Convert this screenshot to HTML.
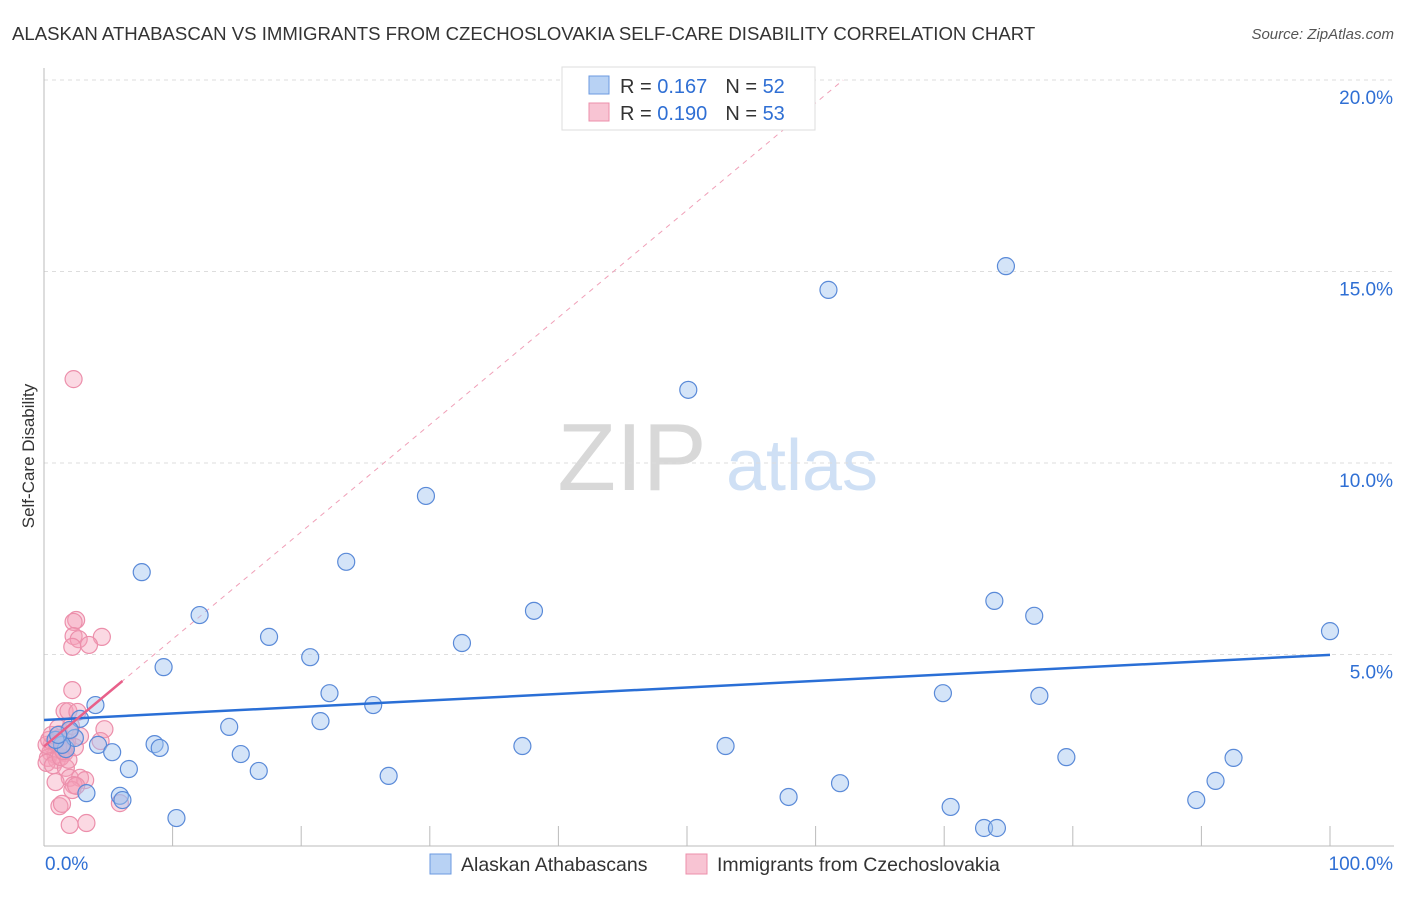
<!DOCTYPE html>
<html><head><meta charset="utf-8"><style>
body{margin:0;background:#fff;font-family:"Liberation Sans",sans-serif}
svg text{font-family:"Liberation Sans",sans-serif}
</style></head><body>
<svg id="chart" width="1406" height="892" viewBox="0 0 1406 892" xmlns="http://www.w3.org/2000/svg">
<text x="12" y="40" font-size="18.6" fill="#333">ALASKAN ATHABASCAN VS IMMIGRANTS FROM CZECHOSLOVAKIA SELF-CARE DISABILITY CORRELATION CHART</text>
<text x="1394" y="39" font-size="15" fill="#555" text-anchor="end" font-style="italic">Source: ZipAtlas.com</text>
<text transform="translate(34,456) rotate(-90)" font-size="17" fill="#333" text-anchor="middle">Self-Care Disability</text>
<g>
<text x="632" y="490" font-size="96" fill="#d8d8d8" font-family="Liberation Serif,serif" text-anchor="middle">ZIP</text>
<text x="802" y="490" font-size="72" fill="#cfe0f5" text-anchor="middle">atlas</text>
</g>
<g id="grid"></g>
<g id="axes"></g>
<g id="trend"></g>
<g id="pts"></g>
<g>
<rect x="562" y="67" width="253" height="63" fill="#fff" stroke="#ddd"/>
<rect x="589" y="76" width="20" height="18" fill="#b8d2f4" stroke="#6b9ae0"/>
<rect x="589" y="103" width="20" height="18" fill="#f8c4d3" stroke="#ec8fab"/>
<text x="620" y="93" font-size="20" fill="#333">R = <tspan fill="#2f6fd4">0.167</tspan><tspan dx="18">N = </tspan><tspan fill="#2f6fd4">52</tspan></text>
<text x="620" y="120" font-size="20" fill="#333">R = <tspan fill="#2f6fd4">0.190</tspan><tspan dx="18">N = </tspan><tspan fill="#2f6fd4">53</tspan></text>
</g>
<g>
<rect x="430" y="854" width="21" height="20" fill="#b8d2f4" stroke="#6b9ae0"/>
<text x="461" y="871" font-size="19.5" fill="#333">Alaskan Athabascans</text>
<rect x="686" y="854" width="21" height="20" fill="#f8c4d3" stroke="#ec8fab"/>
<text x="717" y="871" font-size="19.5" fill="#333">Immigrants from Czechoslovakia</text>
</g>
</svg>
<script>
const yTicks=[5,10,15,20];
const yTickLabels=["5.0%","10.0%","15.0%","20.0%"];
const xTicks=[0,10,20,30,40,50,60,70,80,90,100];
const xEndLabels=["0.0%","100.0%"];
const blueX=[74.8,61.0,50.1,29.7,23.5,7.6,38.1,12.1,73.9,77.0,100,17.5,32.5,20.7,9.3,69.9,77.4,22.2,25.6,4.0,2.8,21.5,14.4,8.6,9.0,4.2,5.3,37.2,53.0,15.3,79.5,92.5,6.6,16.7,26.8,91.1,61.9,3.3,5.9,6.1,57.9,89.6,70.5,10.3,73.1,74.1,1.7,2.4,1.4,0.9,2.0,1.1];
const blueY=[15.14,14.52,11.91,9.14,7.42,7.15,6.14,6.03,6.40,6.01,5.61,5.46,5.30,4.93,4.67,3.99,3.92,3.99,3.68,3.68,3.32,3.26,3.11,2.66,2.56,2.64,2.45,2.61,2.61,2.40,2.32,2.30,2.01,1.96,1.83,1.70,1.64,1.38,1.31,1.20,1.28,1.20,1.02,0.73,0.47,0.47,2.53,2.82,2.64,2.77,3.03,2.90];
const pinkX=[2.3,2.5,2.3,4.5,2.3,2.7,3.5,2.2,2.2,1.6,1.9,2.6,4.7,2.0,1.2,2.8,1.8,0.6,1.1,1.4,0.5,0.9,1.6,0.3,1.0,0.2,0.7,1.7,2.0,2.8,3.2,0.9,2.3,2.2,2.5,1.2,1.4,2.0,3.3,5.9,0.2,0.4,0.9,1.2,1.7,0.6,1.3,1.9,4.4,1.1,2.1,1.5,2.4];
const pinkY=[12.19,5.90,5.85,5.46,5.48,5.40,5.25,5.20,4.07,3.52,3.52,3.50,3.05,3.00,2.92,2.87,2.72,2.64,2.61,2.56,2.45,2.38,2.43,2.30,2.25,2.17,2.11,2.04,1.78,1.78,1.72,1.67,1.59,1.46,1.57,1.04,1.10,0.55,0.60,1.12,2.64,2.77,2.72,2.82,2.64,2.90,2.32,2.25,2.74,3.08,3.13,2.48,2.58];
const blueTrend=[3.29,4.99];
const pinkTrend=[2.6,0.28];
const NS="http://www.w3.org/2000/svg";
const sx=v=>44+v*12.86, sy=v=>846-v*38.3;
function mk(tag,attrs,parent){const e=document.createElementNS(NS,tag);for(const k in attrs)e.setAttribute(k,attrs[k]);document.getElementById(parent).appendChild(e);return e;}
yTicks.forEach((t,i)=>{
 const g=mk('line',{x1:44,x2:1394,y1:sy(t),y2:sy(t),stroke:'#ddd','stroke-dasharray':'4,4'},'grid');
 
 
 const l=mk('text',{x:1393,y:sy(t)+24,'font-size':19,fill:'#2f6fd4','text-anchor':'end'},'grid');
 l.textContent=yTickLabels[i];
 
 
});
const ax=mk('line',{x1:44,x2:44,y1:68,y2:846,stroke:'#bbb'},'axes');


const bx=mk('line',{x1:44,x2:1394,y1:846,y2:846,stroke:'#bbb'},'axes');


xTicks.forEach(t=>{
 const tk=mk('line',{x1:sx(t),x2:sx(t),y1:826,y2:846,stroke:'#bbb'},'axes');
 
 
});
const xl0=mk('text',{x:45,y:870,'font-size':19,fill:'#2f6fd4'},'axes');xl0.textContent=xEndLabels[0];


const xl1=mk('text',{x:1393,y:870,'font-size':19,fill:'#2f6fd4','text-anchor':'end'},'axes');xl1.textContent=xEndLabels[1];


const xe=(20-pinkTrend[0])/pinkTrend[1];
const pd=mk('line',{x1:sx(0),y1:sy(pinkTrend[0]),x2:sx(xe),y2:sy(20),stroke:'#f0a0b8','stroke-dasharray':'5,5','stroke-width':1},'trend');


pinkX.forEach((x,i)=>{
 const c=mk('circle',{cx:sx(x),cy:sy(pinkY[i]),r:8.5,fill:'rgba(245,160,185,0.4)',stroke:'#ec8fab','stroke-width':1.2},'pts');
 
 
});
blueX.forEach((x,i)=>{
 const c=mk('circle',{cx:sx(x),cy:sy(blueY[i]),r:8.5,fill:'rgba(160,195,240,0.45)',stroke:'#5a8ad8','stroke-width':1.2},'pts');
 
 
});
const bt=mk('line',{x1:sx(0),y1:sy(blueTrend[0]),x2:sx(100),y2:sy(blueTrend[1]),stroke:'#2a6fd6','stroke-width':2.5},'pts');


const pt=mk('line',{x1:sx(0),y1:sy(pinkTrend[0]),x2:sx(6.1),y2:sy(pinkTrend[0]+pinkTrend[1]*6.1),stroke:'#e8608a','stroke-width':2.5},'pts');


</script>
</body></html>
